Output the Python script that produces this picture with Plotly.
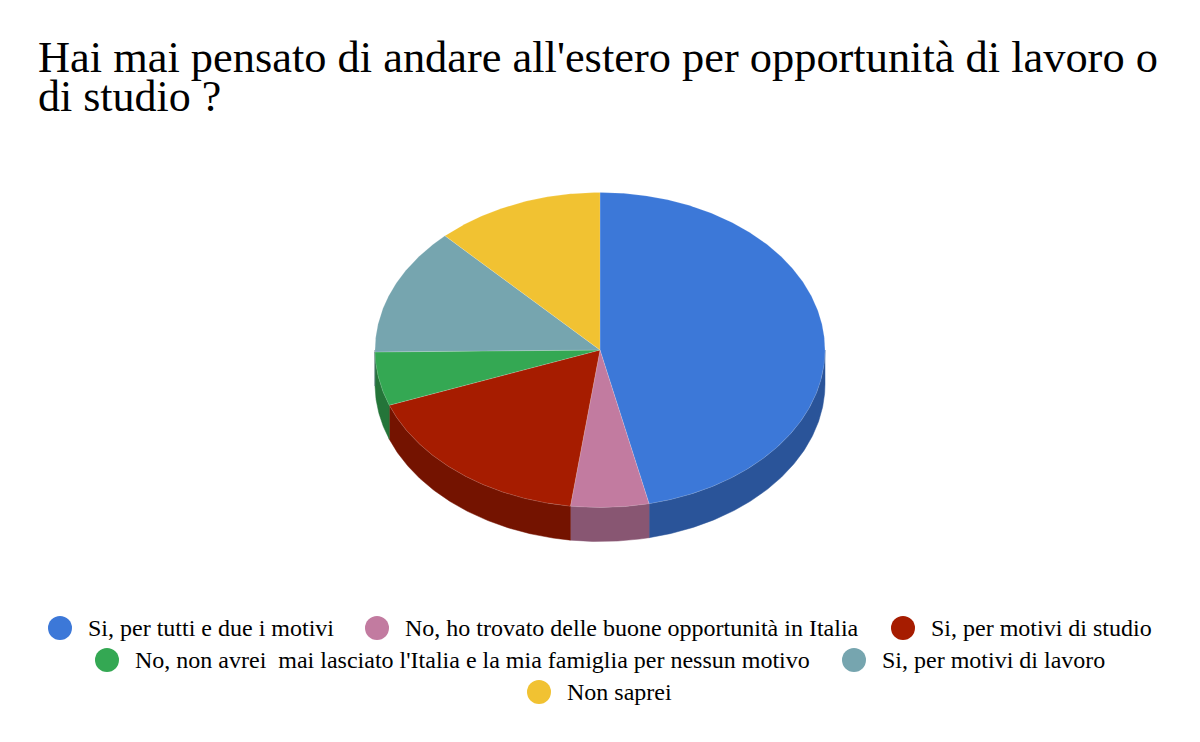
import math
import plotly.graph_objects as go

TITLE_LINES = ["Hai mai pensato di andare all'estero per opportunità di lavoro o", "di studio ?"]
categories = [
    "Si, per tutti e due i motivi",
    "No, ho trovato delle buone opportunità in Italia",
    "Si, per motivi di studio",
    "No, non avrei\u00a0 mai lasciato l'Italia e la mia famiglia per nessun motivo",
    "Si, per motivi di lavoro",
    "Non saprei",
]
values = [46.5, 5.6, 17.2, 5.5, 13.1, 12.1]
top_colors = ["#3c78d8", "#c27ba0", "#a61c00", "#34a853", "#76a5af", "#f1c232"]
side_colors = ["#2a5499", "#885672", "#741300", "#247539", "#527379", "#a98717"]

legend_x = [60, 377, 903, 107, 854, 539]
legend_y = [628, 628, 628, 660, 660, 692]

W, H = 1200, 742
RX_PX, CX_PX, CY_PX = 225, 600, 350
TILT = 157.5 / 225
DEPTH = 34 / 225


def pt(deg, drop=0.0):
    a = math.radians(deg)
    return math.sin(a), TILT * math.cos(a) - drop


def arc(a0, a1, drop=0.0):
    n = max(2, int(abs(a1 - a0) * 2))
    return [pt(a0 + (a1 - a0) * i / n, drop) for i in range(n + 1)]


fig = go.Figure()
total = sum(values)
spans = []
start = 0.0
for v in values:
    spans.append((start, start + v / total * 360))
    start = spans[-1][1]

# Side walls: only the front half of the disc is visible
for (a0, a1), cat, col in zip(spans, categories, side_colors):
    s0, s1 = max(a0, 90), min(a1, 270)
    if s1 <= s0:
        continue
    pts = arc(s0, s1) + arc(s1, s0, DEPTH)
    pts.append(pts[0])
    fig.add_trace(go.Scatter(x=[p[0] for p in pts], y=[p[1] for p in pts], mode="lines",
                             fill="toself", fillcolor=col, line=dict(color=col, width=0.5),
                             hoverinfo="skip", showlegend=False))

# Top faces
for (a0, a1), v, cat, col in zip(spans, values, categories, top_colors):
    pts = [(0, 0)] + arc(a0, a1) + [(0, 0)]
    fig.add_trace(go.Scatter(x=[p[0] for p in pts], y=[p[1] for p in pts], mode="lines",
                             fill="toself", fillcolor=col,
                             line=dict(color="rgba(255,255,255,0.25)", width=0.6),
                             name=cat, text=f"{cat}: {v}%", hoverinfo="text", showlegend=False))

# Legend
fig.add_trace(go.Scatter(x=legend_x, y=legend_y, xaxis="x2", yaxis="y2", mode="markers",
                         marker=dict(size=24, color=top_colors), hoverinfo="skip", showlegend=False))

annotations = [
    dict(text=cat, x=x + 26, y=y, xref="x2", yref="y2", xanchor="left", yanchor="middle",
         showarrow=False, font=dict(family="Liberation Serif", size=24, color="#000000"))
    for cat, x, y in zip(categories, legend_x, legend_y)
]
annotations.append(dict(text=TITLE_LINES[1], x=36 / W, y=1 - 96 / H, xref="paper", yref="paper",
                        xanchor="left", yanchor="middle", showarrow=False,
                        font=dict(family="Liberation Serif", size=44, color="#000000")))

fig.update_layout(
    width=W, height=H, margin=dict(l=0, r=0, t=0, b=0),
    paper_bgcolor="#ffffff", plot_bgcolor="#ffffff", showlegend=False,
    title=dict(text=TITLE_LINES[0], x=38 / W, xref="paper", xanchor="left",
               y=1 - 56 / H, yref="container", yanchor="middle",
               font=dict(family="Liberation Serif", size=44.4, color="#000000")),
    xaxis=dict(range=[-CX_PX / RX_PX, (W - CX_PX) / RX_PX], visible=False, fixedrange=True),
    yaxis=dict(range=[-(H - CY_PX) / RX_PX, CY_PX / RX_PX], visible=False, fixedrange=True),
    xaxis2=dict(range=[0, W], visible=False, overlaying="x", fixedrange=True),
    yaxis2=dict(range=[H, 0], visible=False, overlaying="y", fixedrange=True),
    annotations=annotations,
)
fig.write_html("out.html", config={"displayModeBar": False},
               post_script="document.body.style.margin='0';document.documentElement.style.overflow='hidden';")
